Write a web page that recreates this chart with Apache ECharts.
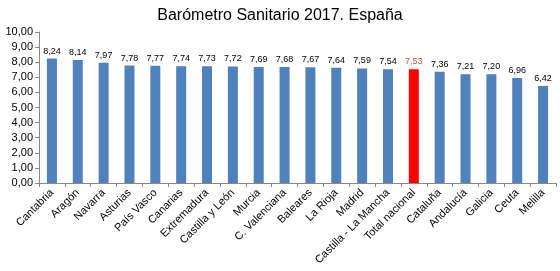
<!DOCTYPE html>
<html>
<head>
<meta charset="utf-8">
<script src="https://cdn.jsdelivr.net/npm/echarts@6/dist/echarts.min.js"></script>
<style>
html,body{margin:0;padding:0;background:#fff;}
#main{width:560px;height:271px;}
</style>
</head>
<body>
<div id="main"></div>
<script>
var regiones = ['Cantabria','Aragón','Navarra','Asturias','País Vasco','Canarias','Extremadura','Castilla y León','Murcia','C. Valenciana','Baleares','La Rioja','Madrid','Castilla - La Mancha','Total nacional','Cataluña','Andalucía','Galicia','Ceuta','Melilla'];
var notas = [8.24,8.14,7.97,7.78,7.77,7.74,7.73,7.72,7.69,7.68,7.67,7.64,7.59,7.54,7.53,7.36,7.21,7.20,6.96,6.42];
var totalIdx = 14;

function fmt(v){ return v.toFixed(2).replace('.', ','); }

var myChart = echarts.init(document.getElementById("main"));
var option = {
    animation: false,
    title: {
        text: 'Barómetro Sanitario 2017. España',
        left: 'center',
        top: 3,
        textStyle: {fontFamily: 'Liberation Sans', fontSize: 16, fontWeight: 'normal', color: '#000'}
    },
    grid: {left: 39, right: 4, top: 32, bottom: 88},
    xAxis: {
        type: 'category',
        data: regiones,
        axisLine: {lineStyle: {color: '#888'}},
        axisTick: {show: true, alignWithLabel: false, length: 4, lineStyle: {color: '#888'}},
        axisLabel: {
            interval: 0, rotate: 45, fontFamily: 'Liberation Sans', fontSize: 11, color: '#000', margin: 8
        }
    },
    yAxis: {
        type: 'value',
        min: 0, max: 10, interval: 1,
        axisLine: {show: true, lineStyle: {color: '#888'}},
        axisTick: {show: true, inside: false, length: 4, lineStyle: {color: '#888'}},
        splitLine: {show: false},
        axisLabel: {
            fontFamily: 'Liberation Sans', fontSize: 11, color: '#000', margin: 6,
            formatter: function(v){ return fmt(v); }
        }
    },
    series: [{
        type: 'bar',
        barWidth: 10,
        data: notas.map(function(v, i){
            return {
                value: v,
                itemStyle: {color: i === totalIdx ? '#FF0000' : '#4F81BD'},
                label: {color: i === totalIdx ? '#C0504D' : '#000'}
            };
        }),
        label: {
            show: true,
            position: 'top',
            distance: 3,
            fontFamily: 'Liberation Sans',
            fontSize: 9,
            formatter: function(p){ return fmt(p.value); }
        }
    }]
};
myChart.setOption(option);
</script>
</body>
</html>
